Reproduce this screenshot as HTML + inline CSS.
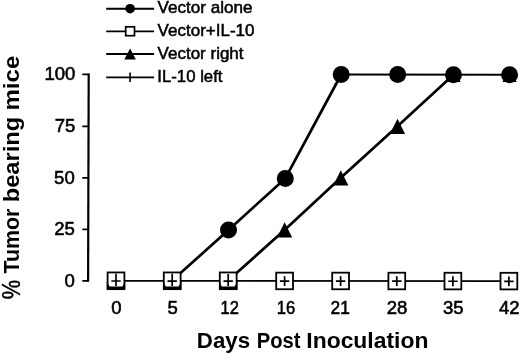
<!DOCTYPE html>
<html><head><meta charset="utf-8">
<style>
html,body{margin:0;padding:0;background:#fff;}
svg{display:block;}
text{font-family:"Liberation Sans",sans-serif;fill:#000;}
.n text{stroke:#000;stroke-width:0.5;}
.m text{stroke:#000;stroke-width:0.55;}
</style></head><body>
<svg width="520" height="354" viewBox="0 0 520 354">
<rect width="520" height="354" fill="#fff"/>
<g stroke="#000" fill="none">
<path d="M88.7 73.6L88.1 281.7" stroke-width="2.2"/>
<path d="M82.3 280.9H88.3M82.3 229.4H88.5M82.3 177.8H88.6M82.3 126.3H88.8M82.3 74.4H88.9" stroke-width="1.8"/>
</g>
<g stroke="#000" stroke-width="1.85">
<path d="M106.2 8.7H154.1M106.2 31.3H154.1M106.2 54.0H154.1M106.2 77.3H154.1"/>
<path d="M130.1 72.4V82.0" stroke-width="1.6"/>
</g>
<circle cx="130.1" cy="8.7" r="4.8"/>
<rect x="125.7" y="26.8" width="8.8" height="8.9" fill="#fff" stroke="#000" stroke-width="1.7"/>
<path d="M130.1 48.4L135.9 59.5H124.3Z"/>
<g class="n" font-size="16.6">
<text transform="translate(157.6,13.3) scale(1.03,1)">Vector alone</text>
<text transform="translate(157.6,36.2) scale(1.025,1)">Vector+IL-10</text>
<text transform="translate(157.6,59.0) scale(1.023,1)">Vector right</text>
<text transform="translate(157.3,82.0) scale(1.01,1)">IL-10 left</text>
</g>
<g stroke="#000" stroke-width="2.7" fill="none" stroke-linejoin="round">
<path d="M116.0 280.85L509.6 281.15" stroke-width="1.8"/>
<path d="M172.2 280.6L228.5 229.9L285.3 178.4L341.2 74.5"/>
<path d="M228.2 280.6L284.6 229.9L340.8 177.8L397.5 126.3L453.5 74.8"/>
<path d="M341.2 74.5L509.6 74.8" stroke-width="2.0"/>
</g>
<g>
<circle cx="228.5" cy="229.9" r="8.5"/>
<circle cx="285.3" cy="178.4" r="8.5"/>
<circle cx="341.2" cy="74.5" r="8.5"/>
<circle cx="397.7" cy="74.6" r="8.5"/>
<circle cx="453.5" cy="74.8" r="8.5"/>
<circle cx="509.6" cy="74.8" r="8.5"/>
</g>
<g>
<path d="M284.6 222.3L292.2 237.5H277.0Z"/>
<path d="M340.8 170.2L348.4 185.4H333.2Z"/>
<path d="M397.5 118.7L405.1 133.9H389.9Z"/>
<path d="M453.5 67.6L460.6 82.1H446.4Z"/>
<path d="M509.6 67.6L516.7 82.1H502.5Z"/>
</g>
<g fill="#fff" stroke="#000" stroke-width="1.8">
<rect x="107.6" y="272.45" width="16.8" height="16.7"/>
<rect x="163.8" y="272.45" width="16.8" height="16.7"/>
<rect x="219.8" y="272.45" width="16.8" height="16.7"/>
<rect x="276.2" y="272.63" width="16.8" height="16.6"/>
<rect x="332.2" y="272.67" width="16.8" height="16.6"/>
<rect x="388.4" y="272.71" width="16.8" height="16.6"/>
<rect x="444.5" y="272.76" width="16.8" height="16.6"/>
<rect x="500.5" y="272.80" width="16.8" height="16.6"/>
</g>
<g>
<path d="M106.8 289.7V281.7L109.6 286.6H122.4L125.2 281.7V289.7Z"/>
<path d="M163.0 289.7V281.7L165.8 286.6H178.6L181.4 281.7V289.7Z"/>
<path d="M219.0 289.7V281.7L221.8 286.6H234.6L237.4 281.7V289.7Z"/>
</g>
<g stroke="#000" stroke-width="1.7">
<path d="M116.0 273.80V285.90M111.3 281.00H120.7M172.2 273.84V285.94M167.5 281.04H176.9M228.2 273.89V285.99M223.5 281.09H232.9M284.6 276.23V286.03M279.9 281.13H289.3M340.6 276.27V286.07M335.9 281.17H345.3M396.8 276.31V286.11M392.1 281.21H401.5M452.9 276.36V286.16M448.2 281.26H457.6M508.9 276.40V286.20M504.2 281.30H513.6"/>
</g>
<g class="m" font-size="17.5" text-anchor="end" transform="scale(1.06,1)">
<text x="71.13" y="79.7">100</text>
<text x="71.04" y="132.4">75</text>
<text x="70.47" y="183.7">50</text>
<text x="70.57" y="234.9">25</text>
<text x="70.57" y="286.8">0</text>
</g>
<g class="m" font-size="17.5" text-anchor="middle">
<text transform="translate(116.4,314.35) scale(1.06,1)">0</text>
<text transform="translate(172.6,314.35) scale(1.06,1)">5</text>
<text transform="translate(229.7,314.35) scale(0.94,1)">12</text>
<text transform="translate(285.9,314.35) scale(0.95,1)">16</text>
<text transform="translate(340.2,314.35) scale(0.99,1)">21</text>
<text transform="translate(397.1,314.35) scale(1.06,1)">28</text>
<text transform="translate(453.2,314.35) scale(1.06,1)">35</text>
<text transform="translate(509.3,314.35) scale(1.06,1)">42</text>
</g>
<g font-size="22.6" font-weight="bold">
<text transform="translate(196.86,347.9) scale(0.985,1)">Days</text>
<text transform="translate(256.69,347.9) scale(0.894,1)">Post</text>
<text transform="translate(306.33,347.9) scale(1.013,1)">Inoculation</text>
<text transform="translate(18.5,273.51) rotate(-90) scale(0.946,1)">Tumor</text>
<text transform="translate(18.5,202.32) rotate(-90) scale(1.048,1)">bearing</text>
<text transform="translate(18.5,110.54) rotate(-90) scale(1.065,1)">mice</text>
<text font-size="25.0" font-weight="normal" stroke="#000" stroke-width="0.4" transform="translate(19.5,299.35) rotate(-90) scale(0.872,1)">%</text>
</g>
</svg>
</body></html>
